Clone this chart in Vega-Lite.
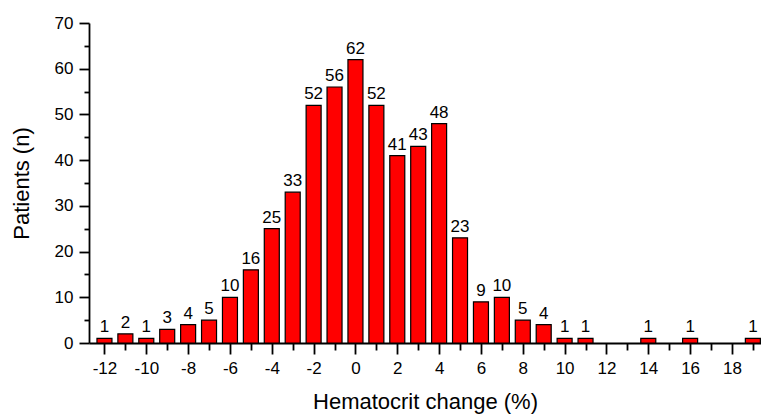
{
  "$schema": "https://vega.github.io/schema/vega-lite/v6.json",
  "width": 672,
  "height": 320,
  "autosize": {"type": "none"},
  "padding": {"left": 89, "top": 23, "right": 0, "bottom": 72},
  "background": "white",
  "config": {
    "view": {"stroke": null},
    "font": "Liberation Sans",
    "axis": {
      "labelFont": "Liberation Sans",
      "titleFont": "Liberation Sans",
      "labelColor": "black",
      "titleColor": "black",
      "domainColor": "black",
      "tickColor": "black",
      "grid": false,
      "labelFontSize": 17,
      "titleFontSize": 22,
      "titleFontWeight": "normal",
      "domainWidth": 1.8,
      "tickWidth": 1.8
    }
  },
  "data": {
    "values": [
      {"change": -12, "n": 1}, {"change": -11, "n": 2}, {"change": -10, "n": 1},
      {"change": -9, "n": 3}, {"change": -8, "n": 4}, {"change": -7, "n": 5},
      {"change": -6, "n": 10}, {"change": -5, "n": 16}, {"change": -4, "n": 25},
      {"change": -3, "n": 33}, {"change": -2, "n": 52}, {"change": -1, "n": 56},
      {"change": 0, "n": 62}, {"change": 1, "n": 52}, {"change": 2, "n": 41},
      {"change": 3, "n": 43}, {"change": 4, "n": 48}, {"change": 5, "n": 23},
      {"change": 6, "n": 9}, {"change": 7, "n": 10}, {"change": 8, "n": 5},
      {"change": 9, "n": 4}, {"change": 10, "n": 1}, {"change": 11, "n": 1},
      {"change": 14, "n": 1}, {"change": 16, "n": 1}, {"change": 19, "n": 1}
    ]
  },
  "resolve": {"axis": {"x": "independent", "y": "independent"}},
  "layer": [
    {
      "mark": {"type": "bar", "size": 15, "fill": "#ff0000", "stroke": "black", "strokeWidth": 1.2, "clip": true},
      "encoding": {
        "x": {
          "field": "change", "type": "quantitative",
          "scale": {"domain": [-12.5, 19.15], "nice": false, "zero": false},
          "axis": {
            "orient": "bottom",
            "values": [-12, -10, -8, -6, -4, -2, 0, 2, 4, 6, 8, 10, 12, 14, 16, 18],
            "labelExpr": "datum.value + ''",
            "tickSize": 11,
            "labelPadding": 6,
            "title": "Hematocrit change (%)",
            "titlePadding": 15
          }
        },
        "y": {
          "field": "n", "type": "quantitative",
          "scale": {"domain": [0, 70], "nice": false},
          "axis": {
            "orient": "left",
            "values": [0, 10, 20, 30, 40, 50, 60, 70],
            "tickSize": 10,
            "labelPadding": 6,
            "title": "Patients (n)",
            "titlePadding": 21
          }
        }
      }
    },
    {
      "mark": {"type": "text", "fontSize": 17, "baseline": "bottom", "dy": -2, "color": "black", "font": "Liberation Sans"},
      "encoding": {
        "x": {
          "field": "change", "type": "quantitative",
          "axis": {
            "orient": "bottom",
            "values": [-11, -9, -7, -5, -3, -1, 1, 3, 5, 7, 9, 11, 13, 15, 17, 19],
            "tickSize": 7,
            "labels": false,
            "domain": false,
            "title": null
          }
        },
        "y": {
          "field": "n", "type": "quantitative",
          "axis": {
            "orient": "left",
            "values": [5, 15, 25, 35, 45, 55, 65],
            "tickSize": 5,
            "labels": false,
            "domain": false,
            "title": null
          }
        },
        "text": {"field": "n", "type": "quantitative"}
      }
    }
  ]
}
